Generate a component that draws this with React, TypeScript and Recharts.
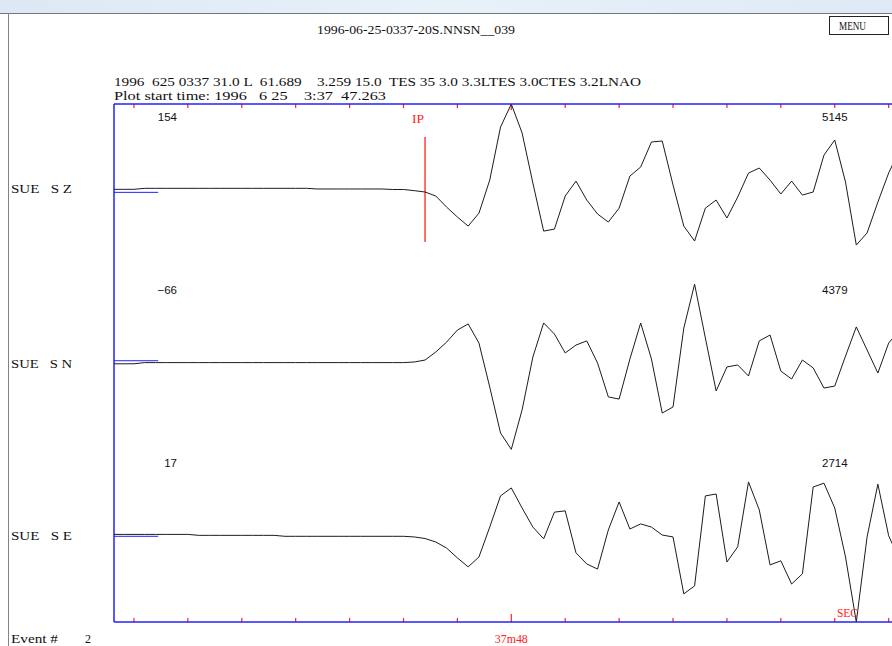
import React from "react";
import { LineChart, Line, XAxis, YAxis, ReferenceLine } from "recharts";

// seconds after 03:37
const PLOT_START = 47.263;
const PLOT_END = 48.76;
const FIRST_SAMPLE = 47.26;
const SAMPLE_DT = 0.02;

const TICKS = [47.3, 47.4, 47.5, 47.6, 47.7, 47.8, 47.9, 48.0, 48.1, 48.2, 48.3, 48.4, 48.5, 48.6, 48.7];
const MAJOR_TICK = 48.0;
const MAJOR_LABEL = "37m48";

const STATIONS = ["SUE   S Z", "SUE   S N", "SUE   S E"];
const DC_LEVEL = [154, -66, 17];
const MAX_AMP = [5145, 4379, 2714];
const ZERO_LEVEL = [-120, 115, -20];
const ZERO_MARK_END = 47.345;

const IP_TIME = 47.84;
const IP_SPAN = [3180, -3080];

const SUE_SZ = [
  60, 60, 60,
  120, 120, 120, 120, 120, 120, 120, 120, 120, 120, 120, 120, 120, 120, 120, 120,
  80, 80, 80, 80, 80, 80, 80,
  50, 50, -20, -100, -340, -1000, -1590, -2130, -1360, 610, 3770, 5145, 3420, 435,
  -2430, -2310, -340, 550, -580, -1410, -1890, -1060, 850, 1390, 2880, 2940, 320,
  -2130, -3020, -1060, -580, -1650, -400, 1030, 1330, 610, -220, 550, -280, -100,
  2100, 3000, 490, -3260, -2540, -700, 1030, 2400,
];

const SUE_SN = [
  -40, -40, -40,
  20, 20, 20, 20, 20, 20, 20, 20, 20, 20, 20, 20, 20, 20, 20, 20, 20, 20, 20, 20, 20, 20, 20, 20, 20,
  50, 150, 560, 1060, 1670, 1980, 1010, -1220, -3550, -4379, -2380, 300,
  2030, 1470, 510, 910, 1120, 0, -1720, -1830, 200, 2030, 200, -2540, -2230,
  1770, 4000, 1270, -1420, -200, -100, -660, 1120, 1420, -410, -810, 150, -250,
  -1270, -1170, 350, 1830, 660, -510, 1010, 1670,
];

const SUE_SE = [
  40, 40, 40, 40, 40, 40, 40, 40,
  10, 10, 10, 10, 10, 10, 10, 10,
  -20, -20, -20, -20, -20, -20, -20, -20, -20, -20, -20, -20,
  -40, -90, -200, -390, -700, -980, -670, 270, 1250, 1500, 870, 270,
  -100, 740, 780, -540, -890, -1050, 180, 1060, 210, 370, 270, 20, -40,
  -1830, -1580, 1250, 1310, -830, -350, 1690, 810, -920, -790, -1520, -1200, 1530,
  1650, 870, -670, -2714, -40, 1620, 0, -760,
];

const IDS = ["z", "n", "e"];

const data = SUE_SZ.map((_, i) => ({
  t: +(FIRST_SAMPLE + i * SAMPLE_DT).toFixed(3),
  z: SUE_SZ[i],
  n: SUE_SN[i],
  e: SUE_SE[i],
}));

// each trace gets its own third of the plot, scaled to its own max amplitude
const bandDomain = (i: number): [number, number] => {
  const a = MAX_AMP[i];
  return [-a * (5 - 2 * i), a * (1 + 2 * i)];
};

const BLUE = "#2222ff";
const RED = "#ff2020";
const INK = "#1c1c1c";
const SERIF = "'Liberation Serif', serif";
const SANS = "'Liberation Sans', sans-serif";

const isMajor = (v: number) => Math.abs(v - MAJOR_TICK) < 1e-6;

// a time mark: short red nicks on the top and bottom frame, label under the major one
function timeMark(major: boolean) {
  return (p: any) => {
    const x = p.x1;
    const top = Math.min(p.y1, p.y2);
    const bottom = Math.max(p.y1, p.y2);
    return (
      <g>
        <path d={`M${x},${top}V${top + (major ? 6 : 4)}`} stroke={RED} strokeWidth={1.2} fill="none" />
        <path d={`M${x},${bottom}V${bottom - (major ? 8 : 4)}`} stroke={RED} strokeWidth={1.2} fill="none" />
        {major && (
          <text x={x} y={bottom + 21} textAnchor="middle" fill={RED} fontFamily={SERIF} fontSize={12} textLength={33} lengthAdjust="spacingAndGlyphs">
            {MAJOR_LABEL}
          </text>
        )}
      </g>
    );
  };
}

const rowY = [188, 363, 535];

export default function App() {
  return (
    <div style={{ position: "fixed", left: 0, top: 0, width: 892, height: 646, overflow: "hidden", background: "#fff" }}>
      <div style={{ position: "absolute", left: 0, top: 0 }}>
        <LineChart width={921} height={646} data={data} margin={{ top: 74, right: 0, bottom: 0, left: 114 }}>
          <XAxis
            xAxisId="top"
            orientation="top"
            type="number"
            dataKey="t"
            domain={[PLOT_START, PLOT_END]}
            allowDataOverflow
            height={30}
            tick={false}
            tickLine={false}
            axisLine={{ stroke: BLUE, strokeWidth: 1.5 }}
          />
          <XAxis
            xAxisId="bottom"
            orientation="bottom"
            type="number"
            dataKey="t"
            domain={[PLOT_START, PLOT_END]}
            allowDataOverflow
            height={24}
            tick={false}
            tickLine={false}
            axisLine={{ stroke: BLUE, strokeWidth: 1.5 }}
          />
          {IDS.map((id, i) => (
            <YAxis key={id} yAxisId={id} type="number" domain={bandDomain(i)} allowDataOverflow hide />
          ))}
          <ReferenceLine xAxisId="bottom" yAxisId="z" x={PLOT_START} stroke={BLUE} strokeWidth={1.5} ifOverflow="visible" />
          {TICKS.map((t) => (
            <ReferenceLine key={"tick" + t} xAxisId="bottom" yAxisId="z" x={t} shape={timeMark(isMajor(t))} ifOverflow="visible" />
          ))}
          {IDS.map((id, i) => (
            <ReferenceLine
              key={"zero-" + id}
              xAxisId="bottom"
              yAxisId={id}
              segment={[
                { x: PLOT_START, y: ZERO_LEVEL[i] },
                { x: ZERO_MARK_END, y: ZERO_LEVEL[i] },
              ]}
              stroke={BLUE}
              strokeWidth={1}
              ifOverflow="visible"
            />
          ))}
          <ReferenceLine
            xAxisId="bottom"
            yAxisId="z"
            segment={[
              { x: IP_TIME, y: IP_SPAN[0] },
              { x: IP_TIME, y: IP_SPAN[1] },
            ]}
            stroke={RED}
            strokeWidth={1.3}
          />
          {IDS.map((id) => (
            <Line
              key={id}
              xAxisId="bottom"
              yAxisId={id}
              dataKey={id}
              type="linear"
              stroke={INK}
              strokeWidth={1}
              dot={false}
              activeDot={false}
              isAnimationActive={false}
            />
          ))}
        </LineChart>
      </div>

      <svg width={892} height={646} style={{ position: "absolute", left: 0, top: 0, pointerEvents: "none" }}>
        <defs>
          <linearGradient id="bar" x1="0" x2="1" y1="0" y2="0">
            <stop offset="0" stopColor="#dde8f4" />
            <stop offset="0.5" stopColor="#e9f1f9" />
            <stop offset="1" stopColor="#dfe9f5" />
          </linearGradient>
        </defs>
        <rect x={0} y={0} width={892} height={13} fill="url(#bar)" />
        <line x1={0} x2={892} y1={13.5} y2={13.5} stroke="#6c7886" />
        <line x1={8.5} x2={8.5} y1={13} y2={646} stroke="#7a8591" />

        <text x={317} y={34} fontFamily={SERIF} fontSize={12} fill="#111" textLength={198} lengthAdjust="spacingAndGlyphs">
          1996-06-25-0337-20S.NNSN__039
        </text>
        <rect x={829.5} y={16.5} width={59} height={18} fill="#fff" stroke="#222" />
        <text x={839} y={30} fontFamily={SERIF} fontSize={12} fill="#111" textLength={27} lengthAdjust="spacingAndGlyphs">
          MENU
        </text>

        <text x={114} y={86} fontFamily={SERIF} fontSize={12} fill="#111" textLength={527} lengthAdjust="spacingAndGlyphs" style={{ whiteSpace: "pre" }}>
          {"1996  625 0337 31.0 L  61.689    3.259 15.0  TES 35 3.0 3.3LTES 3.0CTES 3.2LNAO"}
        </text>
        <text x={114} y={100} fontFamily={SERIF} fontSize={12} fill="#111" textLength={272} lengthAdjust="spacingAndGlyphs" style={{ whiteSpace: "pre" }}>
          {"Plot start time: 1996   6 25    3:37  47.263"}
        </text>

        {STATIONS.map((s, i) => (
          <text key={s} x={11} y={rowY[i] + 5} fontFamily={SERIF} fontSize={12} fill="#111" textLength={61} lengthAdjust="spacingAndGlyphs" style={{ whiteSpace: "pre" }}>
            {s}
          </text>
        ))}
        {DC_LEVEL.map((v, i) => (
          <text key={"dc" + i} x={177} y={121 + i * 173} textAnchor="end" fontFamily={SANS} fontSize={11.5} fill="#111">
            {v < 0 ? "\u2212" + Math.abs(v) : v}
          </text>
        ))}
        {MAX_AMP.map((v, i) => (
          <text key={"mx" + i} x={822} y={121 + i * 173} fontFamily={SANS} fontSize={11.5} fill="#111">
            {v}
          </text>
        ))}

        <text x={412} y={123} fontFamily={SERIF} fontSize={12} fill={RED} textLength={12} lengthAdjust="spacingAndGlyphs">
          IP
        </text>
        <text x={837} y={617} fontFamily={SERIF} fontSize={12} fill={RED} textLength={21} lengthAdjust="spacingAndGlyphs">
          SEC
        </text>
        <text x={11} y={643} fontFamily={SERIF} fontSize={12} fill="#111" textLength={47} lengthAdjust="spacingAndGlyphs" style={{ whiteSpace: "pre" }}>
          {"Event #"}
        </text>
        <text x={85} y={643} fontFamily={SERIF} fontSize={12} fill="#111">
          2
        </text>
      </svg>
    </div>
  );
}
